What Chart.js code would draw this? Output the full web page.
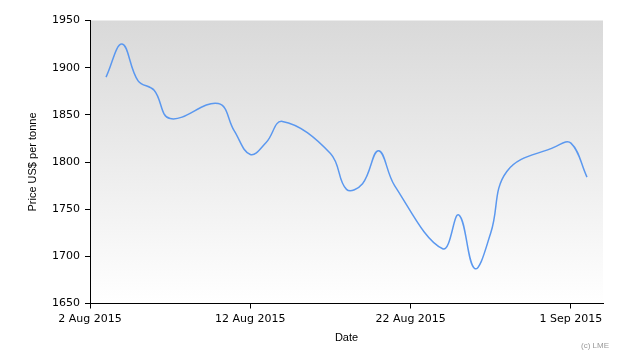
<!DOCTYPE html>
<html>
<head>
<meta charset="utf-8">
<script src="https://cdn.jsdelivr.net/npm/chart.js@4/dist/chart.umd.min.js"></script>
<style>
html,body{margin:0;padding:0;background:#fff;}
#wrap{width:630px;height:360px;position:relative;}
</style>
</head>
<body>
<div id="wrap"><canvas id="c" width="630" height="360"></canvas></div>
<script>
const dates = ['2015-08-03','2015-08-04','2015-08-05','2015-08-06','2015-08-07',
  '2015-08-10','2015-08-11','2015-08-12','2015-08-13','2015-08-14',
  '2015-08-17','2015-08-18','2015-08-19','2015-08-20','2015-08-21',
  '2015-08-24','2015-08-25','2015-08-26','2015-08-27','2015-08-28',
  '2015-08-31','2015-09-01','2015-09-02'];
const prices = [1890,1925,1886,1876,1846,
  1862,1833,1808,1821,1843,
  1809,1771,1777,1812,1775,
  1708,1744,1687,1725,1790,
  1816,1820,1784];
const tickDates = ['2015-08-02','2015-08-12','2015-08-22','2015-09-01'];
const tickLabels = ['2 Aug 2015','12 Aug 2015','22 Aug 2015','1 Sep 2015'];
const yTicks = [1650,1700,1750,1800,1850,1900,1950];
const xMin = '2015-08-02', xMax = '2015-09-03';

const points = dates.map((d,i)=>({x:Date.parse(d), y:prices[i]}));

const bgPlugin = {
  id:'bg',
  beforeDraw(chart){
    const {ctx, chartArea:a} = chart;
    const g = ctx.createLinearGradient(0,a.top,0,a.bottom);
    g.addColorStop(0,'#d9d9d9');
    g.addColorStop(1,'#ffffff');
    ctx.save();
    ctx.fillStyle = g;
    ctx.fillRect(a.left,a.top,a.right-a.left,a.bottom-a.top);
    ctx.restore();
  },
  afterDraw(chart){
    const ctx = chart.ctx;
    ctx.save();
    ctx.font = '8px "Liberation Sans", Arial, sans-serif';
    ctx.fillStyle = '#999999';
    ctx.textAlign = 'right';
    ctx.textBaseline = 'alphabetic';
    ctx.fillText('(c) LME', 609, 348);
    ctx.restore();
  }
};

new Chart(document.getElementById('c'), {
  type:'line',
  data:{datasets:[{
    data:points,
    borderColor:'#5b98ef',
    borderWidth:1.5,
    pointRadius:0,
    tension:0.4,
    fill:false
  }]},
  options:{
    responsive:false,
    animation:false,
    events:[],
    layout:{padding:{top:20.5,right:27,left:0,bottom:0}},
    plugins:{legend:{display:false},tooltip:{enabled:false}},
    scales:{
      x:{
        type:'linear',
        min:Date.parse(xMin),
        max:Date.parse(xMax),
        afterBuildTicks(s){ s.ticks = tickDates.map(d=>({value:Date.parse(d)})); },
        afterFit(s){ s.height = 56.5; },
        ticks:{
          autoSkip:false, maxRotation:0, padding:4,
          color:'#000',
          font:{family:'"DejaVu Sans", sans-serif', size:11},
          callback(v,i){ return tickLabels[i]; }
        },
        grid:{drawOnChartArea:false, drawTicks:true, tickLength:5, color:'#000', tickWidth:1},
        border:{display:true, color:'#000', width:1},
        title:{display:true, text:'Date', color:'#000',
          font:{family:'"Liberation Sans", Arial, sans-serif', size:11},
          padding:{top:0,bottom:15}}
      },
      y:{
        min:1650, max:1950,
        afterBuildTicks(s){ s.ticks = yTicks.map(v=>({value:v})); },
        afterFit(s){ s.width = 90; },
        ticks:{
          padding:5, color:'#000',
          font:{family:'"DejaVu Sans", sans-serif', size:11},
          callback(v){ return String(v); }
        },
        grid:{drawOnChartArea:false, drawTicks:true, tickLength:5, color:'#000', tickWidth:1},
        border:{display:true, color:'#000', width:1},
        title:{display:true, text:'Price US$ per tonne', color:'#000',
          font:{family:'"Liberation Sans", Arial, sans-serif', size:11},
          padding:{top:26,bottom:0}}
      }
    }
  },
  plugins:[bgPlugin]
});
</script>
</body>
</html>
